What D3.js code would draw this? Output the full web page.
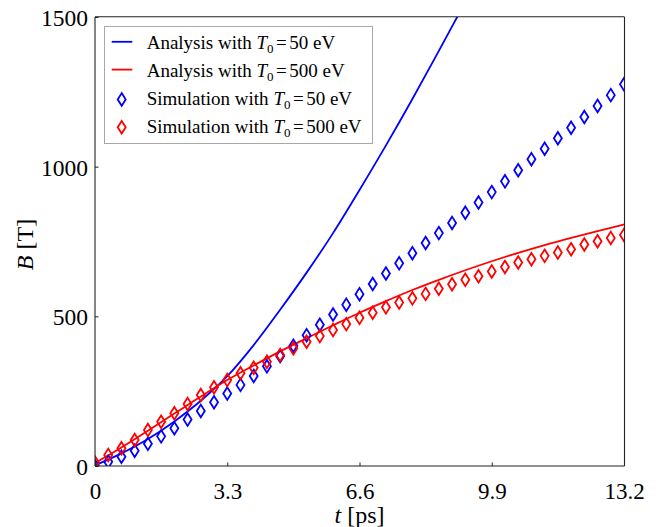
<!DOCTYPE html>
<html>
<head>
<meta charset="utf-8">
<script src="https://cdn.jsdelivr.net/npm/d3@7"></script>
<style>
  html, body { margin: 0; padding: 0; background: #fff; }
  svg { display: block; }
  text { font-family: "Liberation Serif", "DejaVu Serif", serif; fill: #000; }
</style>
</head>
<body>
<svg id="chart" width="662" height="527"></svg>
<script>
// Simulation sample times [ps]
const simT = [0, 0.33, 0.66, 0.99, 1.32, 1.65, 1.98, 2.31, 2.64, 2.97, 3.3, 3.63, 3.96, 4.29, 4.62, 4.95,
  5.28, 5.61, 5.94, 6.27, 6.6, 6.93, 7.26, 7.59, 7.92, 8.25, 8.58, 8.91, 9.24, 9.57, 9.9, 10.23,
  10.56, 10.89, 11.22, 11.55, 11.88, 12.21, 12.54, 12.87, 13.2];
// Simulated field B [T], T0 = 50 eV
const simB50 = [0, 14, 31, 51, 74, 99, 126, 155, 184, 213, 242, 271, 301, 333, 367, 402,
  437, 472, 506, 539, 574, 608, 643, 677, 711, 745, 778, 812, 846, 880, 915, 951,
  988, 1025, 1060, 1095, 1130, 1166, 1203, 1239, 1275];
// Simulated field B [T], T0 = 500 eV
const simB500 = [12, 37, 59, 87, 120, 148, 176, 207, 237, 263, 287, 310, 328, 348, 371, 393,
  415, 434, 454, 474, 495, 512, 530, 546, 560, 575, 592, 607, 622, 634, 650, 665,
  680, 691, 702, 713, 724, 740, 751, 762, 772];

// Analytic curves
const anaT50 = [0, 0.66, 1.32, 1.98, 2.64, 3.3, 3.96, 4.62, 5.28, 5.94, 6.6, 7.26, 7.92, 8.58, 9.24];
const anaB50 = [2, 42, 90, 149, 218, 300, 404, 522, 646, 778, 922, 1071, 1226, 1387, 1550];
const anaT500 = [0, 0.66, 1.32, 1.98, 2.64, 3.3, 3.96, 4.62, 5.28, 5.94, 6.6, 7.26, 7.92, 8.58,
  9.24, 9.9, 10.56, 11.22, 11.88, 12.54, 13.2];
const anaB500 = [10, 62, 118, 175, 232, 287, 336, 383, 427, 470, 512, 551, 588, 622,
  654, 684, 712, 738, 762, 785, 807];

// Axis ticks
const xTicks = [0, 3.3, 6.6, 9.9, 13.2];
const xTickLabels = ["0", "3.3", "6.6", "9.9", "13.2"];
const yTicks = [0, 500, 1000, 1500];

// Legend entries
const legendItems = [
  { kind: "line", color: "#0000ff", prefix: "Analysis with ", value: "50" },
  { kind: "line", color: "#ff0000", prefix: "Analysis with ", value: "500" },
  { kind: "marker", color: "#0000ff", prefix: "Simulation with ", value: "50" },
  { kind: "marker", color: "#ff0000", prefix: "Simulation with ", value: "500" }
];

const svg = d3.select("#chart");
const L = 95, R = 624, T = 17, B = 466;

const x = d3.scaleLinear().domain([0, 13.2]).range([L, R]);
const y = d3.scaleLinear().domain([0, 1500]).range([B, T]);

svg.append("defs").append("clipPath").attr("id", "plotClip")
  .append("rect").attr("x", L).attr("y", T).attr("width", R - L + 0.5).attr("height", B - T);

const plot = svg.append("g").attr("clip-path", "url(#plotClip)");

const line = d3.line().x(d => x(d[0])).y(d => y(d[1])).curve(d3.curveMonotoneX);

plot.append("path")
  .datum(anaT50.map((t, i) => [t, anaB50[i]]))
  .attr("d", line).attr("fill", "none").attr("stroke", "#0000ff").attr("stroke-width", 1.8);
plot.append("path")
  .datum(anaT500.map((t, i) => [t, anaB500[i]]))
  .attr("d", line).attr("fill", "none").attr("stroke", "#ff0000").attr("stroke-width", 1.8);

// thin diamond marker outline
const diamond = "M0,-6.3L4,0L0,6.3L-4,0Z";

function markers(vals, color) {
  plot.append("g").selectAll("path").data(simT.map((t, i) => [t, vals[i]])).join("path")
    .attr("d", diamond)
    .attr("transform", d => `translate(${x(d[0])},${y(d[1])})`)
    .attr("fill", "none").attr("stroke", color).attr("stroke-width", 1.8)
    .attr("stroke-linejoin", "miter");
}
markers(simB50, "#0000ff");
markers(simB500, "#ff0000");

// Frame
const frame = svg.append("g").attr("stroke", "#222").attr("stroke-width", 1.1);
frame.append("line").attr("x1", L).attr("x2", L).attr("y1", T).attr("y2", B);
frame.append("line").attr("x1", R + 0.5).attr("x2", R + 0.5).attr("y1", T).attr("y2", B);
frame.append("line").attr("x1", L).attr("x2", R + 0.5).attr("y1", T - 0.3).attr("y2", T - 0.3);
frame.append("line").attr("x1", L).attr("x2", R + 0.5).attr("y1", B).attr("y2", B);

// X axis (inward ticks)
const xAxis = d3.axisBottom(x).tickValues(xTicks).tickSizeInner(-3.5).tickSizeOuter(0)
  .tickFormat((d, i) => xTickLabels[i]);
const gx = svg.append("g").attr("transform", `translate(0,${B})`).call(xAxis);
gx.select(".domain").remove();
gx.selectAll(".tick line").attr("stroke", "#222");
gx.selectAll(".tick text").attr("font-size", 23).attr("y", 32.5).attr("dy", 0)
  .attr("font-family", "Liberation Serif");

// Y axis (inward ticks)
const yAxis = d3.axisLeft(y).tickValues(yTicks).tickSizeInner(-3.5).tickSizeOuter(0)
  .tickFormat(d3.format("d"));
const gy = svg.append("g").attr("transform", `translate(${L},0)`).call(yAxis);
gy.select(".domain").remove();
gy.selectAll(".tick line").attr("stroke", "#222");
gy.selectAll(".tick text").attr("font-size", 23.5).attr("x", -7).attr("dy", "0.36em")
  .attr("font-family", "Liberation Serif");

// Axis titles
const yl = svg.append("text").attr("transform", "translate(33,244.5) rotate(-90)")
  .attr("text-anchor", "middle").attr("font-size", 24);
yl.append("tspan").attr("font-style", "italic").text("B");
yl.append("tspan").text(" [T]");

const xl = svg.append("text").attr("x", (L + R) / 2).attr("y", 523)
  .attr("text-anchor", "middle").attr("font-size", 24);
xl.append("tspan").attr("font-style", "italic").text("t");
xl.append("tspan").text(" [ps]");

// Legend
const lg = svg.append("g");
lg.append("rect").attr("x", 104.5).attr("y", 26.5).attr("width", 268).attr("height", 117)
  .attr("fill", "#fff").attr("stroke", "#a8a8a8").attr("stroke-width", 1);

const rowBase = [49.3, 77.1, 104.9, 132.7];
legendItems.forEach((it, i) => {
  const by = rowBase[i];
  if (it.kind === "line") {
    lg.append("line").attr("x1", 111.7).attr("x2", 132.3).attr("y1", by - 7.5).attr("y2", by - 7.5)
      .attr("stroke", it.color).attr("stroke-width", 1.8);
  } else {
    lg.append("path").attr("d", diamond).attr("transform", `translate(121.7,${by - 5.5})`)
      .attr("fill", "none").attr("stroke", it.color).attr("stroke-width", 1.8);
  }
  const tx = lg.append("text").attr("x", 146.7).attr("y", by).attr("font-size", 19);
  tx.append("tspan").text(it.prefix);
  tx.append("tspan").attr("font-style", "italic").text("T");
  tx.append("tspan").attr("font-size", 13).attr("dy", 4).text("0");
  tx.append("tspan").attr("dy", -4).attr("dx", 2.5).text("=");
  tx.append("tspan").attr("dx", 2.5).text(it.value + " eV");
});
</script>
</body>
</html>
